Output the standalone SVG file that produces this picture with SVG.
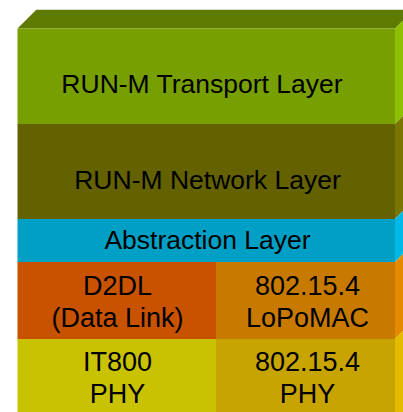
<svg xmlns="http://www.w3.org/2000/svg" width="403" height="412" viewBox="0 0 403 412">
<style>
text{font-family:"Liberation Sans",Arial,sans-serif;font-size:27px;fill:#000;text-anchor:middle}
.big{font-size:26.5px}
</style>
<rect x="0" y="0" width="403" height="412" fill="#ffffff"/>
<g id="top-face">
<polygon points="17.5,28.5 36,10 413.5,10 395,28.5" fill="#5e7a00"/>
<line x1="36" y1="9.5" x2="403" y2="9.5" stroke="#d8dcd0" stroke-width="1"/>
</g>
<g id="transport">
<rect x="17.5" y="28.5" width="377.5" height="95.5" fill="#789f00"/>
<polygon points="395,28.5 413.5,10 413.5,105.5 395,124" fill="#8dc000"/>
<text class="big" x="202" y="93.3">RUN-M Transport Layer</text>
</g>
<g id="network">
<rect x="17.5" y="124" width="377.5" height="95" fill="#646100"/>
<polygon points="395,124 413.5,105.5 413.5,200.5 395,219" fill="#787500"/>
<text class="big" x="207.5" y="189.3">RUN-M Network Layer</text>
</g>
<g id="abstraction">
<rect x="17.5" y="219" width="377.5" height="43" fill="#00a0c6"/>
<polygon points="395,219 413.5,200.5 413.5,243.5 395,262" fill="#00b9e8"/>
<text class="big" x="207.5" y="249.3">Abstraction Layer</text>
</g>
<g id="d2dl">
<rect x="17.5" y="262" width="198.5" height="77" fill="#c85200"/>
<text x="117.5" y="295">D2DL</text>
<text x="117.5" y="326.5">(Data Link)</text>
</g>
<g id="lopomac">
<rect x="216" y="262" width="179" height="77" fill="#c87a00"/>
<polygon points="395,262 413.5,243.5 413.5,320.5 395,339" fill="#e38a00"/>
<text x="307.5" y="295">802.15.4</text>
<text x="307.5" y="326.5">LoPoMAC</text>
</g>
<g id="it800-phy">
<rect x="17.5" y="339" width="198.5" height="73" fill="#c8c200"/>
<text x="117.5" y="371">IT800</text>
<text x="117.5" y="403.3">PHY</text>
</g>
<g id="phy-802154">
<rect x="216" y="339" width="179" height="73" fill="#c8a400"/>
<polygon points="395,339 413.5,320.5 413.5,412 395,412" fill="#e3bc00"/>
<text x="307.5" y="371">802.15.4</text>
<text x="307.5" y="403.3">PHY</text>
</g>
<g id="connectors"/>
</svg>
